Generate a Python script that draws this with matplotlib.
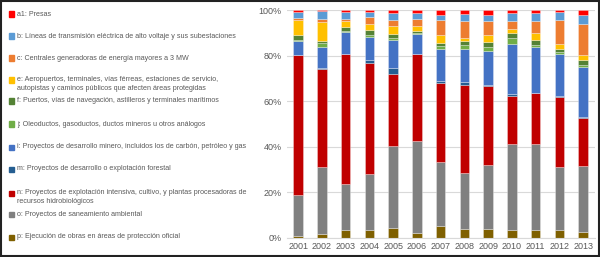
import numpy as np
import matplotlib.pyplot as plt
from matplotlib.patches import Rectangle

plt.rcParams['font.family'] = ['Liberation Sans', 'DejaVu Sans']

years = ["2001", "2002", "2003", "2004", "2005", "2006", "2007",
         "2008", "2009", "2010", "2011", "2012", "2013"]

# cumulative tops (%), stacking order bottom -> top
top_p = [0.9, 1.8, 3.4, 3.5, 4.4, 2.0, 5.0, 4.0, 3.8, 3.2, 3.5, 3.2, 2.6]
top_o = [18.7, 31.2, 23.4, 27.8, 40.4, 42.6, 33.4, 28.6, 31.9, 41.4, 41.0, 30.9, 31.6]
top_n = [80.2, 74.2, 80.7, 77.0, 72.2, 80.7, 68.2, 67.3, 66.8, 62.2, 63.7, 61.9, 52.7]
top_m = [80.4, 74.5, 81.0, 78.0, 74.7, 81.0, 69.1, 68.5, 67.1, 63.4, 63.8, 62.2, 53.0]
top_i = [86.5, 83.9, 90.5, 88.3, 86.8, 89.7, 83.2, 83.2, 82.0, 85.4, 83.9, 81.0, 75.1]
top_j = [87.1, 85.8, 90.9, 89.0, 87.6, 90.2, 84.3, 84.9, 83.9, 88.0, 84.6, 81.7, 76.1]
top_f = [89.0, 86.5, 92.5, 91.5, 89.5, 90.9, 85.8, 86.5, 86.1, 89.9, 87.0, 83.2, 78.0]
top_e = [95.6, 94.9, 95.3, 94.1, 93.1, 93.1, 89.0, 88.0, 89.3, 91.9, 89.9, 85.2, 80.2]
top_c = [96.6, 96.3, 96.3, 97.1, 95.9, 96.3, 95.6, 95.3, 95.3, 95.2, 95.2, 95.6, 93.9]
top_b = [99.3, 99.8, 99.3, 99.1, 99.0, 98.7, 98.1, 98.4, 98.1, 98.7, 98.7, 99.3, 97.8]
top_a1 = [100.0] * 13

tops = [top_p, top_o, top_n, top_m, top_i, top_j, top_f, top_e, top_c, top_b, top_a1]
colors = ["#7F6000", "#808080", "#C00000", "#255E91", "#4472C4", "#70AD47",
          "#548235", "#FFC000", "#ED7D31", "#5B9BD5", "#FF0000"]

# legend entries (top -> bottom as in the picture)
legend_labels = [
    "a1: Presas",
    "b: Líneas de transmisión eléctrica de alto voltaje y sus subestaciones",
    "c: Centrales generadoras de energía mayores a 3 MW",
    "e: Aeropuertos, terminales, vías férreas, estaciones de servicio,\nautopistas y caminos públicos que afecten áreas protegidas",
    "f: Puertos, vías de navegación, astilleros y terminales marítimos",
    "j: Oleoductos, gasoductos, ductos mineros u otros análogos",
    "i: Proyectos de desarrollo minero, incluidos los de carbón, petróleo y gas",
    "m: Proyectos de desarrollo o explotación forestal",
    "n: Proyectos de explotación intensiva, cultivo, y plantas procesadoras de\nrecursos hidrobiológicos",
    "o: Proyectos de saneamiento ambiental",
    "p: Ejecución de obras en áreas de protección oficial",
]
legend_colors = colors[::-1]
legend_y = [14, 36, 58, 80, 101, 124, 147, 169, 193, 214, 237]  # pixel rows

W, H = 600, 257
fig = plt.figure(figsize=(6, 2.57), dpi=100)
ax = fig.add_axes([287 / W, 1 - 237.7 / H, (595 - 287) / W, (237.7 - 10.3) / H])

x = np.arange(len(years))
bottom = np.zeros(len(years))
for t, c in zip(tops, colors):
    t = np.array(t)
    ax.bar(x, t - bottom, bottom=bottom, width=0.4, color=c,
           edgecolor=(1, 1, 1, 0.35), linewidth=0.6)
    bottom = t

ax.set_xlim(-0.47, 12.5)
ax.set_ylim(0, 100)
ax.set_yticks(np.arange(0, 101, 20))
ax.set_yticklabels([f"{v}%" for v in range(0, 101, 20)])
ax.set_xticks(x, years)
ax.grid(axis="y", color="#D9D9D9", linewidth=0.8)
ax.set_axisbelow(True)
for s in ["top", "right", "left"]:
    ax.spines[s].set_visible(False)
ax.spines["bottom"].set_color("#D9D9D9")
ax.tick_params(axis="both", length=0, labelsize=6.5, colors="#595959", pad=3)
ax.tick_params(axis="y", pad=4)

for lab, c, yp in zip(legend_labels, legend_colors, legend_y):
    fig.patches.append(Rectangle((9 / W, 1 - (yp + 2.5) / H), 5 / W, 5 / H,
                                 transform=fig.transFigure, color=c))
    if "\n" in lab:
        fig.text(17 / W, 1 - (yp - 4.5) / H, lab, fontsize=5.15, color="#595959",
                 va="top", ha="left", linespacing=1.5)
    else:
        fig.text(17 / W, 1 - yp / H, lab, fontsize=5.15, color="#595959",
                 va="center", ha="left")

# outer frame
fig.patches.append(Rectangle((0.002, 0.004), 0.996, 0.992, transform=fig.transFigure,
                             fill=False, edgecolor="#222222", linewidth=1.5))

fig.savefig("out.png", dpi=100)
